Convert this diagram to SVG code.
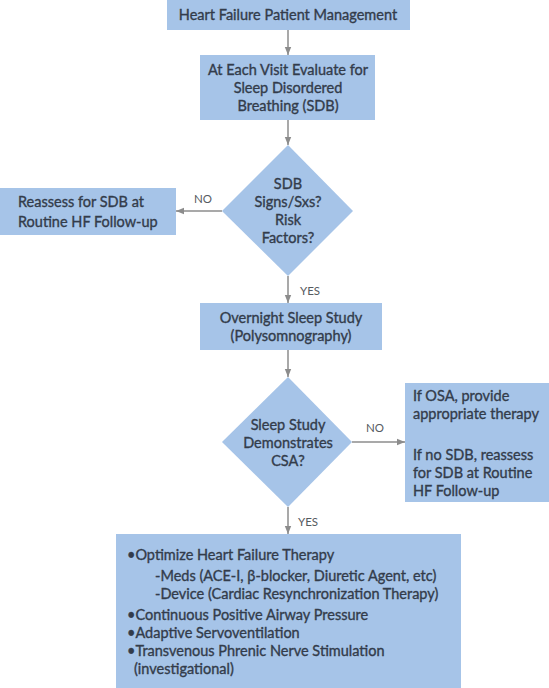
<svg xmlns="http://www.w3.org/2000/svg" width="549" height="688" viewBox="0 0 549 688">
<style>
.box{fill:#a6c4e8;}
.t{font-family:Lato,"Noto Sans",sans-serif;font-size:14.5px;fill:#333c4b;stroke:#333c4b;stroke-width:0.35px;}
.c{text-anchor:middle;}
.lbl{font-family:Lato,"Noto Sans",sans-serif;font-size:11.5px;fill:#555a60;}
.ln{stroke:#8c8c8c;stroke-width:1.5;fill:none;marker-end:url(#ah);}
</style>
<defs>
<marker id="ah" viewBox="0 0 10 10" refX="10" refY="5" markerWidth="8" markerHeight="8" markerUnits="userSpaceOnUse" orient="auto">
<path d="M0,1 L10,5 L0,9 Z" fill="#8c8c8c"/>
</marker>
</defs>
<rect width="549" height="688" fill="#ffffff"/>
<g id="connectors">
<line class="ln" x1="288" y1="30" x2="288" y2="55"/>
<line class="ln" x1="288" y1="120" x2="288" y2="145"/>
<line class="ln" x1="222" y1="211" x2="176" y2="211"/>
<line class="ln" x1="288" y1="276" x2="288" y2="303"/>
<line class="ln" x1="288" y1="350" x2="288" y2="377"/>
<line class="ln" x1="352" y1="442" x2="405" y2="442"/>
<line class="ln" x1="288" y1="507" x2="288" y2="534"/>
<text class="lbl" x="194" y="203">NO</text>
<text class="lbl" x="300" y="295">YES</text>
<text class="lbl" x="366" y="432">NO</text>
<text class="lbl" x="298" y="526">YES</text>
</g>
<g id="n1">
<rect class="box" x="167" y="0" width="243" height="30"/>
<text class="t c" x="288" y="20">Heart Failure Patient Management</text>
</g>
<g id="n2">
<rect class="box" x="200" y="55" width="175" height="65"/>
<text class="t c" x="288" y="75">At Each Visit Evaluate for</text>
<text class="t c" x="288" y="93">Sleep Disordered</text>
<text class="t c" x="288" y="111">Breathing (SDB)</text>
</g>
<g id="d1">
<polygon class="box" points="288,145 353,211 288,276 222,211"/>
<text class="t c" x="288" y="189">SDB</text>
<text class="t c" x="288" y="207">Signs/Sxs?</text>
<text class="t c" x="288" y="225">Risk</text>
<text class="t c" x="288" y="243">Factors?</text>
</g>
<g id="n3">
<rect class="box" x="0" y="188" width="176" height="47"/>
<text class="t" x="18" y="207">Reassess for SDB at</text>
<text class="t" x="18" y="227">Routine HF Follow-up</text>
</g>
<g id="n4">
<rect class="box" x="200" y="303" width="182" height="47"/>
<text class="t c" x="291" y="323">Overnight Sleep Study</text>
<text class="t c" x="291" y="341">(Polysomnography)</text>
</g>
<g id="d2">
<polygon class="box" points="288,377 352,442 288,507 222,442"/>
<text class="t c" x="288" y="430">Sleep Study</text>
<text class="t c" x="288" y="448">Demonstrates</text>
<text class="t c" x="288" y="466">CSA?</text>
</g>
<g id="n5">
<rect class="box" x="405" y="383" width="144" height="119"/>
<text class="t" x="413" y="401">If OSA, provide</text>
<text class="t" x="413" y="419">appropriate therapy</text>
<text class="t" x="413" y="460">If no SDB, reassess</text>
<text class="t" x="413" y="478">for SDB at Routine</text>
<text class="t" x="413" y="496">HF Follow-up</text>
</g>
<g id="n6">
<rect class="box" x="116" y="534" width="345" height="154"/>
<text class="t" x="127" y="560">•Optimize Heart Failure Therapy</text>
<text class="t" x="155" y="581">-Meds (ACE-I, β-blocker, Diuretic Agent, etc)</text>
<text class="t" x="155" y="599">-Device (Cardiac Resynchronization Therapy)</text>
<text class="t" x="127" y="620">•Continuous Positive Airway Pressure</text>
<text class="t" x="127" y="638">•Adaptive Servoventilation</text>
<text class="t" x="127" y="656">•Transvenous Phrenic Nerve Stimulation</text>
<text class="t" x="134" y="674">(investigational)</text>
</g>
</svg>
